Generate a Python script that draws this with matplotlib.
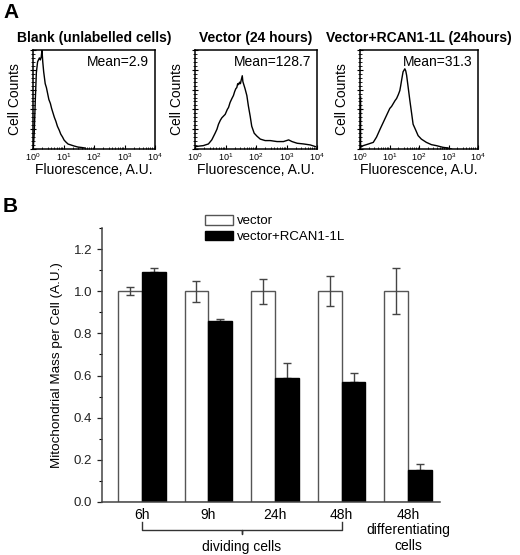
import numpy as np
import matplotlib
matplotlib.use("Agg")
import matplotlib.pyplot as plt
from matplotlib.patches import Patch
import matplotlib.transforms as mtransforms
from matplotlib.ticker import LogLocator, NullFormatter, MultipleLocator

plt.rcParams['font.family'] = ['Liberation Sans', 'DejaVu Sans']
plt.rcParams['mathtext.fontset'] = 'custom'
plt.rcParams['mathtext.rm'] = 'Liberation Sans'

# ---------------- Panel A data (log10 fluorescence, relative cell count %) ----
hist_titles = ["Blank (unlabelled cells)", "Vector (24 hours)", "Vector+RCAN1-1L (24hours)"]
hist_means = ["Mean=2.9", "Mean=128.7", "Mean=31.3"]

blank_logfl = [0.01, 0.04, 0.075, 0.11, 0.15, 0.21, 0.24, 0.27, 0.295, 0.32, 0.35, 0.40,
               0.44, 0.48, 0.52, 0.57, 0.61, 0.66, 0.70, 0.75, 0.80, 0.86, 0.91, 0.97,
               1.02, 1.08, 1.15, 1.25, 1.35, 1.47, 1.60, 1.70]
blank_counts = [1, 16, 49, 77, 88, 92, 90, 93, 100, 88, 78, 66,
                62, 56, 50, 46, 41, 36, 32, 28, 23, 19, 15, 12,
                9, 7, 5, 4, 3, 2, 1.5, 1]

vector_logfl = [0.02, 0.15, 0.27, 0.44, 0.55, 0.66, 0.72, 0.77, 0.83, 0.88, 0.99, 1.06,
                1.10, 1.15, 1.21, 1.26, 1.30, 1.34, 1.37, 1.40, 1.43, 1.46, 1.49, 1.51,
                1.55, 1.57, 1.59, 1.64, 1.70, 1.75, 1.81, 1.86, 1.94, 2.03, 2.14, 2.30,
                2.47, 2.69, 2.90, 3.07, 3.18, 3.35, 3.56, 3.78, 3.95]
vector_counts = [2.4, 3, 3.4, 5.1, 9.2, 16, 20, 25, 29, 31.5, 35, 40,
                 42, 47, 51, 54, 58, 61, 62, 66, 65, 67.5, 66, 69,
                 74, 68, 66, 61, 54, 43.5, 33, 23, 16, 13, 10, 8.5,
                 8.5, 7.5, 7.5, 9.2, 7.5, 5.8, 5.1, 4.1, 2.4]

rcan_logfl = [0.02, 0.02, 0.11, 0.28, 0.45, 0.56, 0.68, 0.79, 0.90, 1.01, 1.07, 1.13,
              1.19, 1.24, 1.30, 1.35, 1.38, 1.41, 1.46, 1.52, 1.55, 1.58, 1.63, 1.69,
              1.75, 1.80, 1.89, 1.97, 2.08, 2.25, 2.42, 2.59, 2.81, 2.98, 3.10]
rcan_counts = [52.5, 1.7, 3.4, 5, 6.7, 12, 20, 27, 34, 41, 43, 46,
               49, 51, 55, 59, 64, 69.5, 78, 81, 79, 74.5, 63, 49,
               36, 25, 19, 13.5, 10, 6.7, 4.4, 3.4, 1.7, 1, 0]

hist_logfl = [blank_logfl, vector_logfl, rcan_logfl]
hist_counts = [blank_counts, vector_counts, rcan_counts]

# ---------------- Panel B data ----------------
categories = ["6h", "9h", "24h", "48h", "48h\ndifferentiating\ncells"]
vector_vals = [1.0, 1.0, 1.0, 1.0, 1.0]
vector_err = [0.02, 0.05, 0.06, 0.07, 0.11]
rcan_vals = [1.09, 0.86, 0.59, 0.57, 0.15]
rcan_err = [0.02, 0.01, 0.07, 0.04, 0.03]
series_names = ["vector", "vector+RCAN1-1L"]
dividing_group = [0, 3]   # category indices spanned by "dividing cells"

W, H = 520, 555
fig = plt.figure(figsize=(W / 100, H / 100), dpi=100)

def fx(px):
    return px / W

def fy(py):
    return 1 - py / H

# ---- Panel A ----
hist_boxes = [(33, 155), (195, 317), (360, 478)]
top_px, bot_px = 50, 149
for i, (x0, x1) in enumerate(hist_boxes):
    ax = fig.add_axes([fx(x0), fy(bot_px), fx(x1 - x0), (bot_px - top_px) / H])
    xs = np.power(10.0, np.array(hist_logfl[i]))
    ax.plot(xs, hist_counts[i], color='black', lw=1.0)
    ax.set_xscale('log')
    ax.set_xlim(1, 1e4)
    ax.set_ylim(0, 100)
    ax.set_xticks([1, 10, 100, 1000, 10000])
    ax.set_xticklabels([r'$10^{0}$', r'$10^{1}$', r'$10^{2}$', r'$10^{3}$', r'$10^{4}$'])
    ax.xaxis.set_minor_locator(LogLocator(base=10, subs=np.arange(2, 10), numticks=20))
    ax.xaxis.set_minor_formatter(NullFormatter())
    ax.tick_params(axis='x', which='major', direction='in', length=3, width=0.8,
                   labelsize=6.5, pad=1.5)
    ax.tick_params(axis='x', which='minor', direction='in', length=1.8, width=0.6)
    ax.yaxis.set_major_locator(MultipleLocator(20))
    ax.yaxis.set_minor_locator(MultipleLocator(4))
    ax.tick_params(axis='y', which='major', direction='inout', length=4, width=0.8,
                   labelleft=False)
    ax.tick_params(axis='y', which='minor', direction='inout', length=2.5, width=0.6)
    for s in ax.spines.values():
        s.set_linewidth(1.1)
    ax.set_title(hist_titles[i], fontsize=10, fontweight='bold', pad=6)
    ax.text(0.95, 0.88, hist_means[i], transform=ax.transAxes, ha='right', va='center',
            fontsize=10)
    ax.set_xlabel("Fluorescence, A.U.", fontsize=10, labelpad=0)
    ax.set_ylabel("Cell Counts", fontsize=10, labelpad=3)

fig.text(fx(3), fy(13), "A", fontsize=15, fontweight='bold', ha='left', va='center')
fig.text(fx(3), fy(207), "B", fontsize=15, fontweight='bold', ha='left', va='center')

# ---- Panel B ----
axb = fig.add_axes([fx(102), fy(502), fx(440 - 102), (502 - 228) / H])
pos = np.arange(len(categories))
bw = 0.36
edge_gray = '#555555'
axb.bar(pos - bw / 2, vector_vals, bw, color='white', edgecolor=edge_gray, lw=1.0,
        label=series_names[0], zorder=2)
axb.bar(pos + bw / 2, rcan_vals, bw, color='black', edgecolor='black', lw=1.0,
        label=series_names[1], zorder=2)
axb.errorbar(pos - bw / 2, vector_vals, yerr=vector_err, fmt='none', ecolor='#444444',
             elinewidth=1.0, capsize=3, capthick=1.0, zorder=3)
axb.errorbar(pos + bw / 2, rcan_vals, yerr=[np.zeros(len(rcan_err)), rcan_err], fmt='none',
             ecolor='#444444', elinewidth=1.0, capsize=3, capthick=1.0, zorder=1)
axb.set_xlim(-0.6, 4.48)
axb.set_ylim(0, 1.3)
axb.yaxis.set_major_locator(MultipleLocator(0.2))
axb.yaxis.set_minor_locator(MultipleLocator(0.1))
axb.set_yticks(np.arange(0, 1.21, 0.2))
axb.set_yticklabels([f"{v:.1f}" for v in np.arange(0, 1.21, 0.2)])
axb.tick_params(axis='y', which='major', direction='out', length=3.5, width=0.9,
                labelsize=9.5, colors='#222222')
axb.tick_params(axis='y', which='minor', direction='out', length=2, width=0.8)
axb.set_xticks(pos)
axb.set_xticklabels(categories, fontsize=10, va='top', linespacing=1.15)
axb.tick_params(axis='x', length=0, pad=4)
for side in ['top', 'right']:
    axb.spines[side].set_visible(False)
for side in ['left', 'bottom']:
    axb.spines[side].set_color('#444444')
    axb.spines[side].set_linewidth(1.1)
axb.set_ylabel("Mitochondrial Mass per Cell (A.U.)", fontsize=9.7, labelpad=8)

# bracket for dividing cells
tr = mtransforms.blended_transform_factory(axb.transData, axb.transAxes)
g0, g1 = dividing_group
mid = (g0 + g1) / 2
y_top, y_line, y_tip = -0.073, -0.102, -0.117
bx = [g0, g0, mid - 0.03, mid, mid, mid, mid + 0.03, g1, g1]
by = [y_top, y_line, y_line, y_line, y_tip, y_line, y_line, y_line, y_top]
axb.plot(bx, by, color='#333333', lw=1.0, transform=tr, clip_on=False)
axb.text(mid, -0.164, "dividing cells", transform=tr, ha='center', va='center', fontsize=10)

axb.legend(loc='upper left', bbox_to_anchor=(fx(205), fy(215)),
           bbox_transform=fig.transFigure, frameon=False, fontsize=9.5,
           borderpad=0, borderaxespad=0, handlelength=2.1, handleheight=0.75,
           handletextpad=0.3, labelspacing=0.25)

fig.savefig("out.png", dpi=100)
